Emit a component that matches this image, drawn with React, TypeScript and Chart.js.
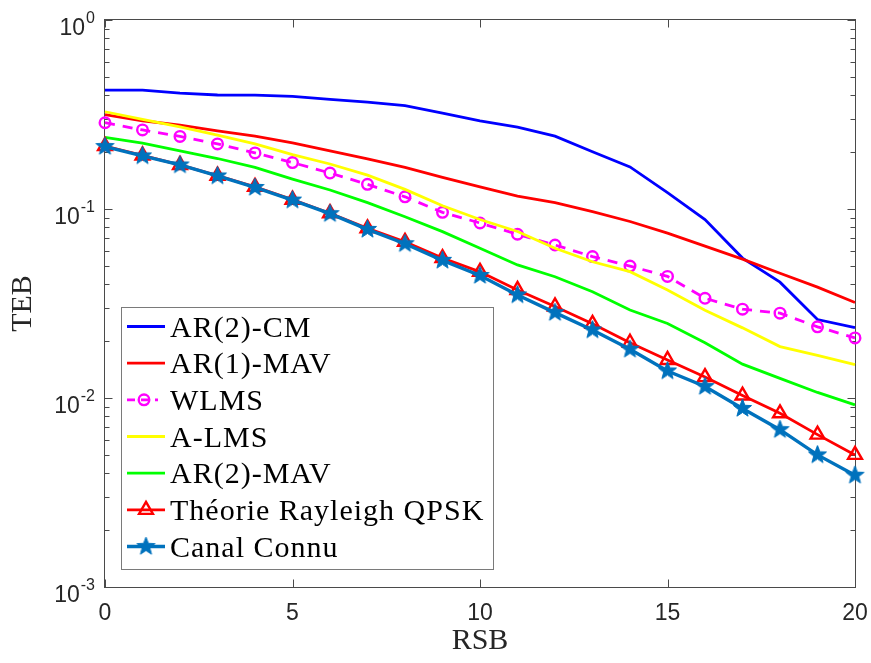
import React, { useEffect, useRef } from "react";
import { Chart, registerables } from "chart.js";

Chart.register(...registerables);

// ---- data ----
const snr = [0, 1, 2, 3, 4, 5, 6, 7, 8, 9, 10, 11, 12, 13, 14, 15, 16, 17, 18, 19, 20];

const ar2Cm = [0.426, 0.426, 0.41, 0.401, 0.4, 0.394, 0.38, 0.368, 0.352, 0.322, 0.293, 0.271, 0.243, 0.201, 0.167, 0.122, 0.088, 0.055, 0.041, 0.026, 0.0236];
const ar1Mav = [0.316, 0.293, 0.278, 0.259, 0.243, 0.224, 0.203, 0.184, 0.166, 0.147, 0.131, 0.117, 0.108, 0.0968, 0.0859, 0.0745, 0.0636, 0.0543, 0.0457, 0.0386, 0.032];
const wlms = [0.286, 0.262, 0.242, 0.221, 0.198, 0.176, 0.155, 0.135, 0.116, 0.096, 0.0843, 0.0735, 0.0645, 0.056, 0.0499, 0.044, 0.0337, 0.0295, 0.0281, 0.0238, 0.0208];
const aLms = [0.327, 0.298, 0.272, 0.246, 0.221, 0.194, 0.173, 0.151, 0.127, 0.104, 0.088, 0.076, 0.062, 0.0526, 0.0466, 0.0373, 0.0291, 0.0235, 0.0187, 0.0168, 0.015];
const ar2Mav = [0.239, 0.223, 0.203, 0.185, 0.166, 0.144, 0.126, 0.108, 0.091, 0.0759, 0.062, 0.0506, 0.0438, 0.0365, 0.0292, 0.0248, 0.0196, 0.0151, 0.0127, 0.0107, 0.0092];
const theorie = [0.215, 0.192, 0.171, 0.15, 0.131, 0.112, 0.095, 0.079, 0.067, 0.055, 0.0465, 0.0373, 0.0305, 0.0247, 0.0196, 0.0159, 0.0129, 0.0103, 0.0083, 0.0064, 0.005];
const canal = [0.214, 0.191, 0.171, 0.1495, 0.13, 0.1115, 0.0945, 0.078, 0.0655, 0.0535, 0.0445, 0.0351, 0.0283, 0.0229, 0.0181, 0.0139, 0.0115, 0.0088, 0.0068, 0.005, 0.0039];

const seriesLabels = ["AR(2)-CM", "AR(1)-MAV", "WLMS", "A-LMS", "AR(2)-MAV", "Théorie Rayleigh QPSK", "Canal Connu"];

const xTickValues = [0, 5, 10, 15, 20];
const yMajorValues = [1, 0.1, 0.01, 0.001];
const yMajorExponents = ["0", "-1", "-2", "-3"];

const xTitle = "RSB";
const yTitle = "TEB";

const SANS = '"Liberation Sans", Arial, Helvetica, sans-serif';
const SERIF = '"Liberation Serif", "Times New Roman", serif';

function makeStar(color: string, outer: number): HTMLCanvasElement {
  const size = Math.ceil(outer * 2 + 4);
  const c = document.createElement("canvas");
  c.width = size;
  c.height = size;
  const g = c.getContext("2d")!;
  const cx = size / 2;
  const cy = size / 2;
  const inner = outer * 0.42;
  g.beginPath();
  for (let i = 0; i < 10; i++) {
    const r = i % 2 === 0 ? outer : inner;
    const a = -Math.PI / 2 + (i * Math.PI) / 5;
    const px = cx + r * Math.cos(a);
    const py = cy + r * Math.sin(a);
    if (i === 0) g.moveTo(px, py);
    else g.lineTo(px, py);
  }
  g.closePath();
  g.fillStyle = color;
  g.fill();
  g.strokeStyle = color;
  g.lineWidth = 1;
  g.stroke();
  return c;
}

type SeriesDef = {
  label: string;
  values: number[];
  color: string;
  width: number;
  dash?: number[];
  marker?: "circle" | "triangle" | "star";
};

export default function App() {
  const ref = useRef<HTMLCanvasElement>(null);

  useEffect(() => {
    if (!ref.current) return;
    const star = makeStar("#0072bd", 9.5);

    const series: SeriesDef[] = [
      { label: seriesLabels[0], values: ar2Cm, color: "#0000ff", width: 2.8 },
      { label: seriesLabels[1], values: ar1Mav, color: "#ff0000", width: 2.8 },
      { label: seriesLabels[2], values: wlms, color: "#ff00ff", width: 2.8, dash: [10, 8], marker: "circle" },
      { label: seriesLabels[3], values: aLms, color: "#ffff00", width: 2.8 },
      { label: seriesLabels[4], values: ar2Mav, color: "#00ff00", width: 2.8 },
      { label: seriesLabels[5], values: theorie, color: "#ff0000", width: 2.8, marker: "triangle" },
      { label: seriesLabels[6], values: canal, color: "#0072bd", width: 3.4, marker: "star" },
    ];

    const datasets = series.map((s, i) => {
      const base: any = {
        label: s.label,
        data: snr.map((x, j) => ({ x, y: s.values[j] })),
        borderColor: s.color,
        backgroundColor: s.color,
        borderWidth: s.width,
        borderDash: s.dash || [],
        tension: 0,
        order: series.length - 1 - i,
        clip: false,
        pointRadius: 0,
        pointHoverRadius: 0,
      };
      if (s.marker === "circle") {
        base.pointStyle = "circle";
        base.pointRadius = 5.3;
        base.pointBorderWidth = 2.4;
        base.pointBorderColor = s.color;
        base.pointBackgroundColor = "rgba(0,0,0,0)";
      } else if (s.marker === "triangle") {
        base.pointStyle = "triangle";
        base.pointRadius = 8;
        base.pointBorderWidth = 2.4;
        base.pointBorderColor = s.color;
        base.pointBackgroundColor = "rgba(0,0,0,0)";
      } else if (s.marker === "star") {
        base.pointStyle = star;
        base.pointRadius = 9;
      }
      return base;
    });

    const axesPlugin = {
      id: "matlabAxes",
      beforeDatasetsDraw(chart: any) {
        const { ctx, chartArea } = chart;
        const xs = chart.scales.x;
        const ys = chart.scales.y;
        const L = chartArea.left - 0.5;
        const R = chartArea.right + 0.5;
        const T = chartArea.top - 0.5;
        const B = chartArea.bottom + 0.5;
        ctx.save();
        ctx.fillStyle = "#ffffff";
        ctx.fillRect(chartArea.left, chartArea.top, chartArea.right - chartArea.left, chartArea.bottom - chartArea.top);
        ctx.strokeStyle = "#4a4a4a";
        ctx.lineWidth = 1;
        ctx.strokeRect(L, T, R - L, B - T);

        ctx.beginPath();
        xTickValues.forEach((v) => {
          const px = Math.round(xs.getPixelForValue(v)) + 0.5;
          ctx.moveTo(px, B);
          ctx.lineTo(px, B - 8);
          ctx.moveTo(px, T);
          ctx.lineTo(px, T + 8);
        });
        yMajorValues.forEach((v) => {
          const py = Math.round(ys.getPixelForValue(v)) + 0.5;
          ctx.moveTo(L, py);
          ctx.lineTo(L + 8, py);
          ctx.moveTo(R, py);
          ctx.lineTo(R - 8, py);
        });
        for (let d = -3; d < 0; d++) {
          for (let m = 2; m <= 9; m++) {
            const v = m * Math.pow(10, d);
            const py = Math.round(ys.getPixelForValue(v)) + 0.5;
            ctx.moveTo(L, py);
            ctx.lineTo(L + 5, py);
            ctx.moveTo(R, py);
            ctx.lineTo(R - 5, py);
          }
        }
        ctx.stroke();

        ctx.fillStyle = "#262626";
        ctx.textBaseline = "alphabetic";
        ctx.font = `23px ${SANS}`;
        ctx.textAlign = "center";
        xTickValues.forEach((v) => {
          ctx.fillText(String(v), xs.getPixelForValue(v), 620);
        });
        ctx.textAlign = "left";
        yMajorValues.forEach((v, i) => {
          const py = ys.getPixelForValue(v);
          ctx.font = `23px ${SANS}`;
          const w1 = ctx.measureText("10").width;
          ctx.font = `16px ${SANS}`;
          const w2 = ctx.measureText(yMajorExponents[i]).width;
          const right = 95;
          const x0 = right - w1 - w2 - 1;
          ctx.font = `23px ${SANS}`;
          ctx.fillText("10", x0, py + 15);
          ctx.font = `16px ${SANS}`;
          ctx.fillText(yMajorExponents[i], x0 + w1 + 1, py + 3);
        });

        ctx.font = `30px ${SERIF}`;
        ctx.textAlign = "center";
        ctx.fillText(xTitle, (chartArea.left + chartArea.right) / 2, 649);
        ctx.save();
        ctx.translate(31, (chartArea.top + chartArea.bottom) / 2);
        ctx.rotate(-Math.PI / 2);
        ctx.fillText(yTitle, 0, 0);
        ctx.restore();
        ctx.restore();
      },
      afterDraw(chart: any) {
        const { ctx } = chart;
        ctx.save();
        const bx = 121.5;
        const by = 307.5;
        const bw = 372;
        const bh = 262;
        ctx.fillStyle = "#ffffff";
        ctx.fillRect(bx, by, bw, bh);
        ctx.strokeStyle = "#7a7a7a";
        ctx.lineWidth = 1;
        ctx.strokeRect(bx, by, bw, bh);

        series.forEach((s, i) => {
          const cy = 326.5 + i * 36.67;
          ctx.save();
          ctx.strokeStyle = s.color;
          ctx.lineWidth = s.width;
          ctx.setLineDash(s.dash ? [8, 6] : []);
          ctx.beginPath();
          if (s.dash) {
            ctx.moveTo(127, cy);
            ctx.lineTo(158, cy);
          } else {
            ctx.moveTo(127, cy);
            ctx.lineTo(165, cy);
          }
          ctx.stroke();
          ctx.setLineDash([]);
          const mx = s.dash ? 144 : 146;
          if (s.marker === "circle") {
            ctx.lineWidth = 2.4;
            ctx.beginPath();
            ctx.arc(mx, cy, 5.3, 0, Math.PI * 2);
            ctx.stroke();
          } else if (s.marker === "triangle") {
            ctx.lineWidth = 2.4;
            const r = 8;
            ctx.beginPath();
            ctx.moveTo(mx, cy - r);
            ctx.lineTo(mx + r * 0.866, cy + r * 0.5);
            ctx.lineTo(mx - r * 0.866, cy + r * 0.5);
            ctx.closePath();
            ctx.stroke();
          } else if (s.marker === "star") {
            ctx.drawImage(star, mx - star.width / 2, cy - star.height / 2);
          }
          ctx.restore();

          ctx.fillStyle = "#000000";
          ctx.font = `30px ${SERIF}`;
          ctx.textAlign = "left";
          ctx.textBaseline = "alphabetic";
          try {
            (ctx as any).letterSpacing = "1px";
          } catch (e) {}
          ctx.fillText(s.label, 170, cy + 10);
          try {
            (ctx as any).letterSpacing = "0px";
          } catch (e) {}
        });
        ctx.restore();
      },
    };

    const chart = new Chart(ref.current, {
      type: "line",
      data: { datasets },
      options: {
        animation: false,
        responsive: false,
        devicePixelRatio: 1,
        events: [],
        layout: { padding: { left: 0, top: 20, right: 16, bottom: 0 } },
        plugins: {
          legend: { display: false },
          tooltip: { enabled: false },
          title: { display: false },
        },
        scales: {
          x: {
            type: "linear",
            min: 0,
            max: 20,
            grid: { display: false },
            border: { display: false },
            ticks: { display: false },
            afterFit: (s: any) => {
              s.height = 76;
            },
          },
          y: {
            type: "logarithmic",
            min: 0.001,
            max: 1,
            grid: { display: false },
            border: { display: false },
            ticks: { display: false },
            afterFit: (s: any) => {
              s.width = 105;
            },
          },
        },
      } as any,
      plugins: [axesPlugin],
    });

    return () => chart.destroy();
  }, []);

  return (
    <div style={{ position: "fixed", left: 0, top: 0, width: 871, height: 663, background: "#ffffff" }}>
      <canvas ref={ref} width={871} height={663} style={{ display: "block", width: 871, height: 663 }} />
    </div>
  );
}
